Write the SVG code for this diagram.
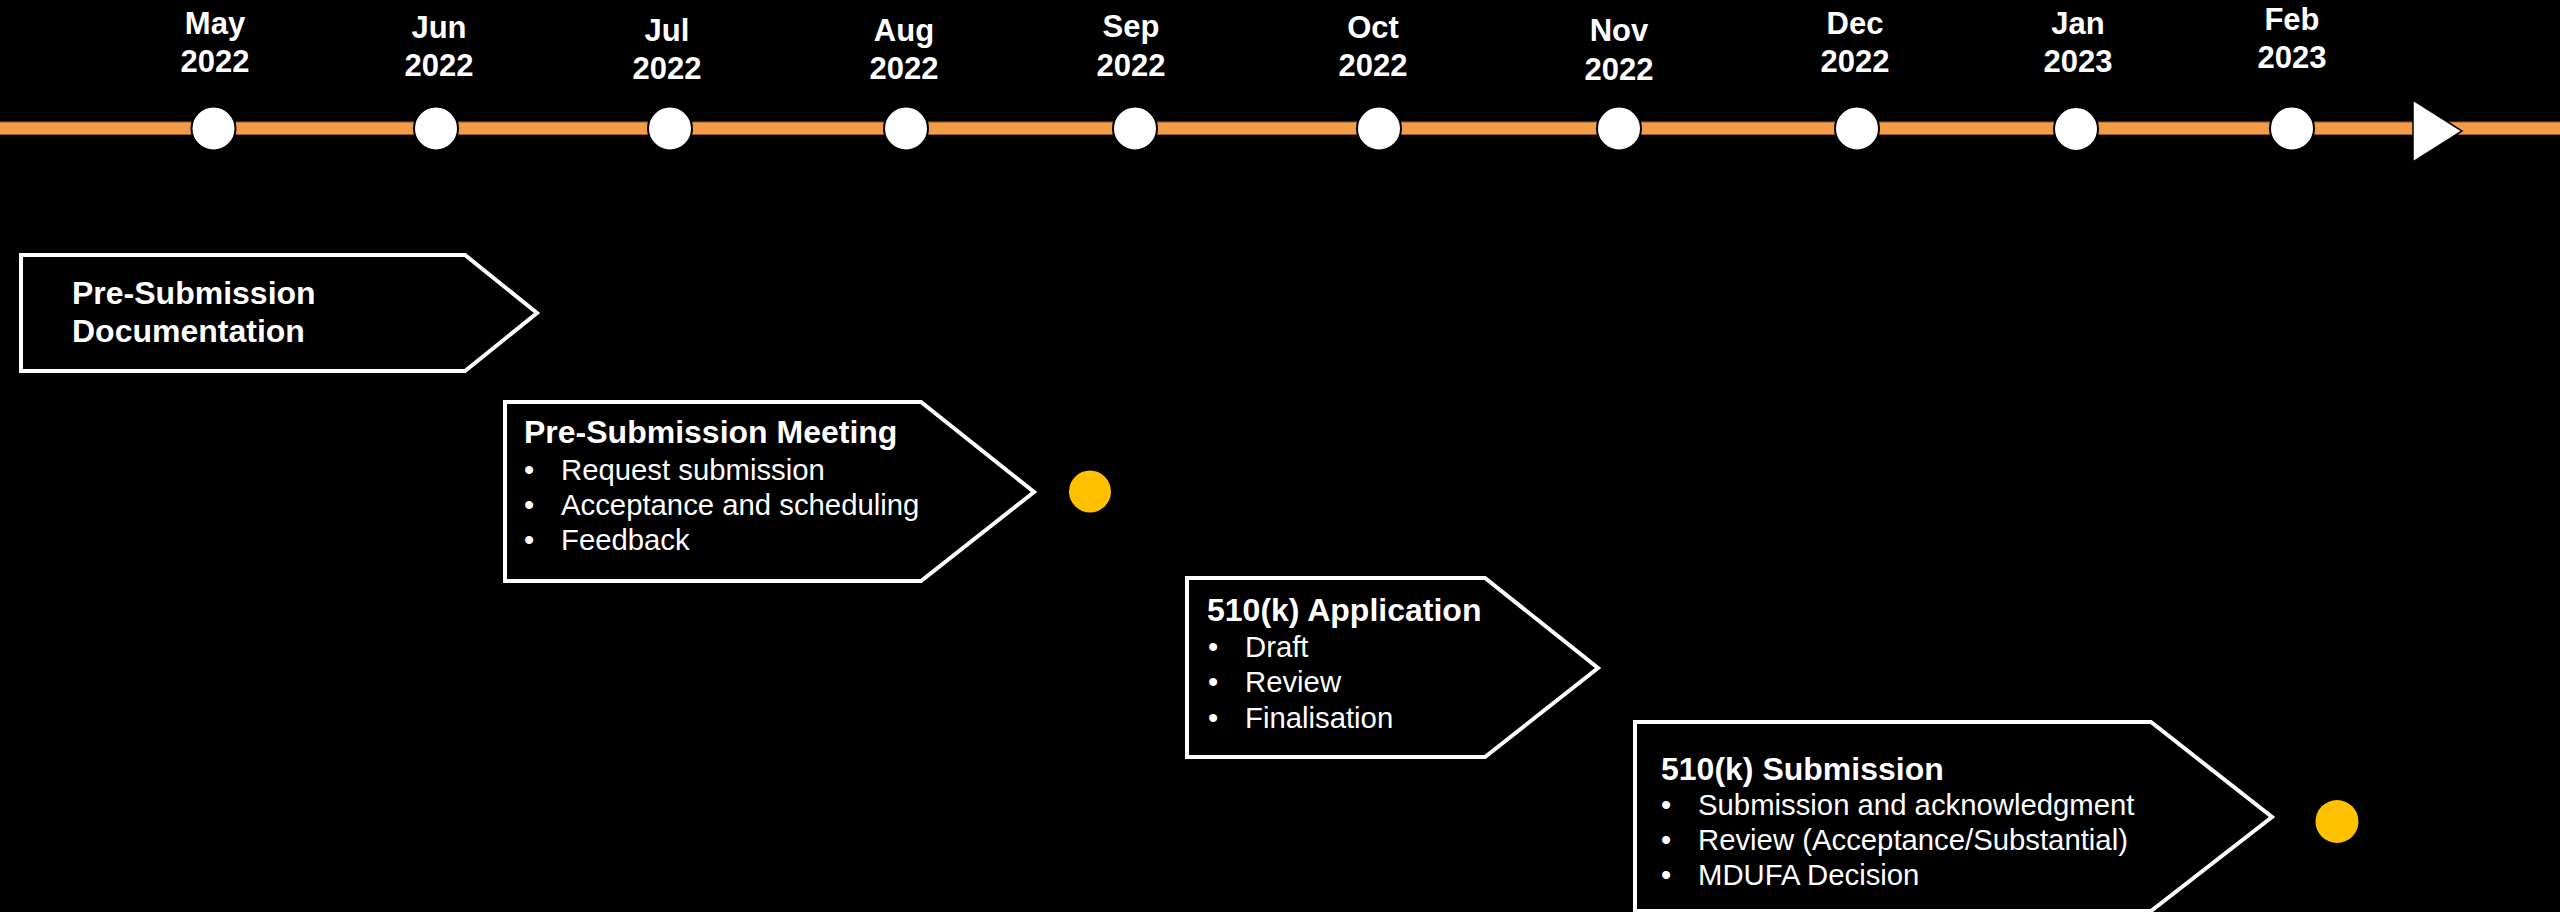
<svg xmlns="http://www.w3.org/2000/svg" width="2560" height="912" viewBox="0 0 2560 912">
<style>
.bg{fill:#000}
.mon{font-family:"Liberation Sans",Arial,sans-serif;font-weight:bold;font-size:31px;fill:#fff;text-anchor:middle}
.dot{fill:#fff;stroke:#000;stroke-width:2}
.box{fill:#000;stroke:#fff;stroke-width:4;stroke-linejoin:miter}
.ttl{font-family:"Liberation Sans",Arial,sans-serif;font-weight:bold;font-size:32px;fill:#fff}
.txt{font-family:"Liberation Sans",Arial,sans-serif;font-size:29.3px;fill:#fff}
.ms{fill:#FFC000}
</style>
<rect class="bg" x="0" y="0" width="2560" height="912"/>
<g id="connectors">
<rect x="-2" y="122" width="2564" height="12.5" fill="#F09C48" stroke="#9A5A22" stroke-width="1"/>
<polygon points="2413,100 2462,131 2413,162" fill="#fff" stroke="#000" stroke-width="1.5"/>
</g>
<g id="m-may"><circle class="dot" cx="213.5" cy="128.5" r="22"/><text class="mon" x="215" y="34">May</text><text class="mon" x="215" y="72">2022</text></g>
<g id="m-jun"><circle class="dot" cx="436" cy="128.5" r="22"/><text class="mon" x="439" y="38">Jun</text><text class="mon" x="439" y="76">2022</text></g>
<g id="m-jul"><circle class="dot" cx="670" cy="128.5" r="22"/><text class="mon" x="667" y="41">Jul</text><text class="mon" x="667" y="79">2022</text></g>
<g id="m-aug"><circle class="dot" cx="906" cy="128.5" r="22"/><text class="mon" x="904" y="41">Aug</text><text class="mon" x="904" y="79">2022</text></g>
<g id="m-sep"><circle class="dot" cx="1135" cy="128.5" r="22"/><text class="mon" x="1131" y="37">Sep</text><text class="mon" x="1131" y="76">2022</text></g>
<g id="m-oct"><circle class="dot" cx="1379" cy="128.5" r="22"/><text class="mon" x="1373" y="38">Oct</text><text class="mon" x="1373" y="76">2022</text></g>
<g id="m-nov"><circle class="dot" cx="1619" cy="128.5" r="22"/><text class="mon" x="1619" y="41">Nov</text><text class="mon" x="1619" y="80">2022</text></g>
<g id="m-dec"><circle class="dot" cx="1857" cy="128.5" r="22"/><text class="mon" x="1855" y="34">Dec</text><text class="mon" x="1855" y="72">2022</text></g>
<g id="m-jan"><circle class="dot" cx="2076" cy="129" r="22"/><text class="mon" x="2078" y="34">Jan</text><text class="mon" x="2078" y="72">2023</text></g>
<g id="m-feb"><circle class="dot" cx="2292" cy="128.5" r="22"/><text class="mon" x="2292" y="30">Feb</text><text class="mon" x="2292" y="68">2023</text></g>

<g id="pre-sub-doc">
<polygon class="box" points="21,255 465,255 537,313 465,371 21,371"/>
<text class="ttl" x="72" y="304">Pre-Submission</text>
<text class="ttl" x="72" y="342">Documentation</text>
</g>

<g id="pre-sub-meeting">
<polygon class="box" points="505,402 921,402 1034,492 921,581 505,581"/>
<text class="ttl" x="524" y="443">Pre-Submission Meeting</text>
<text class="txt" y="480"><tspan x="524">•</tspan><tspan x="561">Request submission</tspan></text>
<text class="txt" y="515"><tspan x="524">•</tspan><tspan x="561">Acceptance and scheduling</tspan></text>
<text class="txt" y="550"><tspan x="524">•</tspan><tspan x="561">Feedback</tspan></text>
</g>
<circle id="milestone-1" class="ms" cx="1090" cy="491.5" r="21"/>

<g id="app-510k">
<polygon class="box" points="1187,578 1485,578 1598,668 1485,757 1187,757"/>
<text class="ttl" x="1207" y="621">510(k) Application</text>
<text class="txt" y="657"><tspan x="1208">•</tspan><tspan x="1245">Draft</tspan></text>
<text class="txt" y="692"><tspan x="1208">•</tspan><tspan x="1245">Review</tspan></text>
<text class="txt" y="728"><tspan x="1208">•</tspan><tspan x="1245">Finalisation</tspan></text>
</g>

<g id="sub-510k">
<polygon class="box" points="1635,722 2151,722 2272,817 2151,911 1635,911"/>
<text class="ttl" x="1661" y="780">510(k) Submission</text>
<text class="txt" y="815"><tspan x="1661">•</tspan><tspan x="1698">Submission and acknowledgment</tspan></text>
<text class="txt" y="850"><tspan x="1661">•</tspan><tspan x="1698">Review (Acceptance/Substantial)</tspan></text>
<text class="txt" y="885"><tspan x="1661">•</tspan><tspan x="1698">MDUFA Decision</tspan></text>
</g>
<circle id="milestone-2" class="ms" cx="2337" cy="821.5" r="21.5"/>
</svg>
